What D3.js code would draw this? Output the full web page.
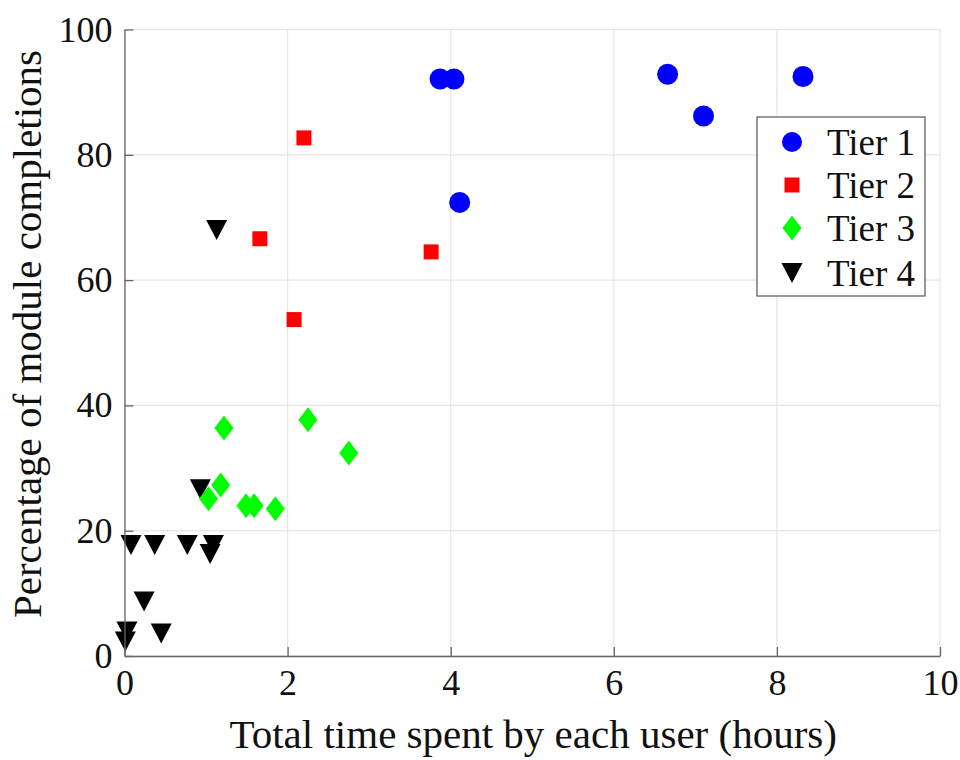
<!DOCTYPE html>
<html>
<head>
<meta charset="utf-8">
<script src="https://cdn.jsdelivr.net/npm/d3@7"></script>
<style>
  body { margin: 0; background: #fff; }
  svg text { font-family: "Liberation Serif", "Times New Roman", serif; fill: #111; }
</style>
</head>
<body>
<div id="chart"></div>
<script>
// Dati
const tierNames = ['Tier 1', 'Tier 2', 'Tier 3', 'Tier 4'];

const tier1X = [3.87, 4.04, 6.66, 7.10, 8.32, 4.11];
const tier1Y = [92.1, 92.1, 92.85, 86.2, 92.5, 72.4];

const tier2X = [2.20, 1.66, 3.76, 2.08];
const tier2Y = [82.7, 66.6, 64.5, 53.7];

const tier3X = [1.22, 2.25, 2.75, 1.18, 1.03, 1.49, 1.59, 1.85];
const tier3Y = [36.4, 37.7, 32.4, 27.3, 25.1, 24.0, 24.0, 23.5];

const tier4X = [1.13, 0.93, 0.08, 0.37, 0.77, 1.09, 1.05, 0.24, 0.45, 0.03, 0.01];
const tier4Y = [68.0, 26.6, 17.7, 17.7, 17.7, 17.7, 16.3, 8.7, 3.6, 3.9, 2.3];

const xTicks = [0, 2, 4, 6, 8, 10];
const yTicks = [0, 20, 40, 60, 80, 100];

const W = 960, H = 760;
const plot = { left: 124.5, right: 940, top: 29.5, bottom: 656 };

// Forme dei marker (path centrati in 0,0)
const shapes = {
  circle:   s => `M${-s},0A${s},${s} 0 1,0 ${s},0A${s},${s} 0 1,0 ${-s},0Z`,
  square:   s => `M${-s},${-s}H${s}V${s}H${-s}Z`,
  diamond:  s => `M0,${-s * 1.25}L${s * 0.95},0L0,${s * 1.25}L${-s * 0.95},0Z`,
  triangle: s => `M${-s * 1.05},${-s}L${s * 1.05},${-s}L0,${s}Z`
};

const series = [
  { name: tierNames[0], xs: tier1X, ys: tier1Y, color: '#0000ff', shape: 'circle',   size: 10.5 },
  { name: tierNames[1], xs: tier2X, ys: tier2Y, color: '#ff0000', shape: 'square',   size: 7.5 },
  { name: tierNames[2], xs: tier3X, ys: tier3Y, color: '#00ff00', shape: 'diamond',  size: 10 },
  { name: tierNames[3], xs: tier4X, ys: tier4Y, color: '#000000', shape: 'triangle', size: 10 }
];

const svg = d3.select('#chart').append('svg')
  .attr('width', W).attr('height', H);

const x = d3.scaleLinear().domain([0, 10]).range([plot.left, plot.right]);
const y = d3.scaleLinear().domain([0, 100]).range([plot.bottom, plot.top]);

// Griglia
const grid = svg.append('g');
grid.selectAll('.gx').data(xTicks).enter().append('line')
  .attr('x1', d => x(d)).attr('x2', d => x(d))
  .attr('y1', y(0)).attr('y2', y(100))
  .attr('stroke', '#e6e6e6').attr('stroke-width', 1.2);
grid.selectAll('.gy').data(yTicks).enter().append('line')
  .attr('x1', x(0)).attr('x2', x(10))
  .attr('y1', d => y(d)).attr('y2', d => y(d))
  .attr('stroke', '#e6e6e6').attr('stroke-width', 1.2);

// Punti (Tier 4 sotto, Tier 1 sopra)
series.slice().reverse().forEach(s => {
  svg.append('g').selectAll('path')
    .data(s.xs.map((v, i) => [v, s.ys[i]]))
    .enter().append('path')
    .attr('d', shapes[s.shape](s.size))
    .attr('transform', d => `translate(${x(d[0])},${y(d[1])})`)
    .attr('fill', s.color);
});

// Assi (tick verso l'interno)
const xAxis = svg.append('g')
  .attr('transform', `translate(0,${y(0)})`)
  .call(d3.axisBottom(x).tickValues(xTicks).tickSizeInner(-9).tickSizeOuter(0).tickPadding(13));
const yAxis = svg.append('g')
  .attr('transform', `translate(${x(0)},0)`)
  .call(d3.axisLeft(y).tickValues(yTicks).tickSizeInner(-9).tickSizeOuter(0).tickPadding(12));

[xAxis, yAxis].forEach(a => {
  a.select('.domain').attr('stroke', '#666').attr('stroke-width', 1.3);
  a.selectAll('.tick line').attr('stroke', '#666').attr('stroke-width', 1.3);
  a.selectAll('.tick text').attr('font-size', 36).attr('fill', '#111')
    .attr('font-family', '"Liberation Serif", serif');
});
xAxis.selectAll('.tick text').attr('dy', '0.71em');

// Etichette degli assi
svg.append('text')
  .attr('x', (x(0) + x(10)) / 2 + 1).attr('y', 748)
  .attr('text-anchor', 'middle').attr('font-size', 41)
  .text('Total time spent by each user (hours)');

svg.append('text')
  .attr('transform', 'translate(41,334) rotate(-90)')
  .attr('text-anchor', 'middle').attr('font-size', 41)
  .text('Percentage of module completions');

// Legenda
const lg = svg.append('g').attr('transform', 'translate(757,117)');
lg.append('rect')
  .attr('width', 168).attr('height', 179)
  .attr('fill', '#fff').attr('stroke', '#555').attr('stroke-width', 1.2);
const rowsY = [25, 68, 111, 156];
series.forEach((s, i) => {
  lg.append('path')
    .attr('d', shapes[s.shape](s.size === 10.5 ? 10 : s.size))
    .attr('transform', `translate(35,${rowsY[i]})`)
    .attr('fill', s.color);
  lg.append('text')
    .attr('x', 70).attr('y', rowsY[i] + 13)
    .attr('font-size', 37)
    .text(s.name);
});
</script>
</body>
</html>
